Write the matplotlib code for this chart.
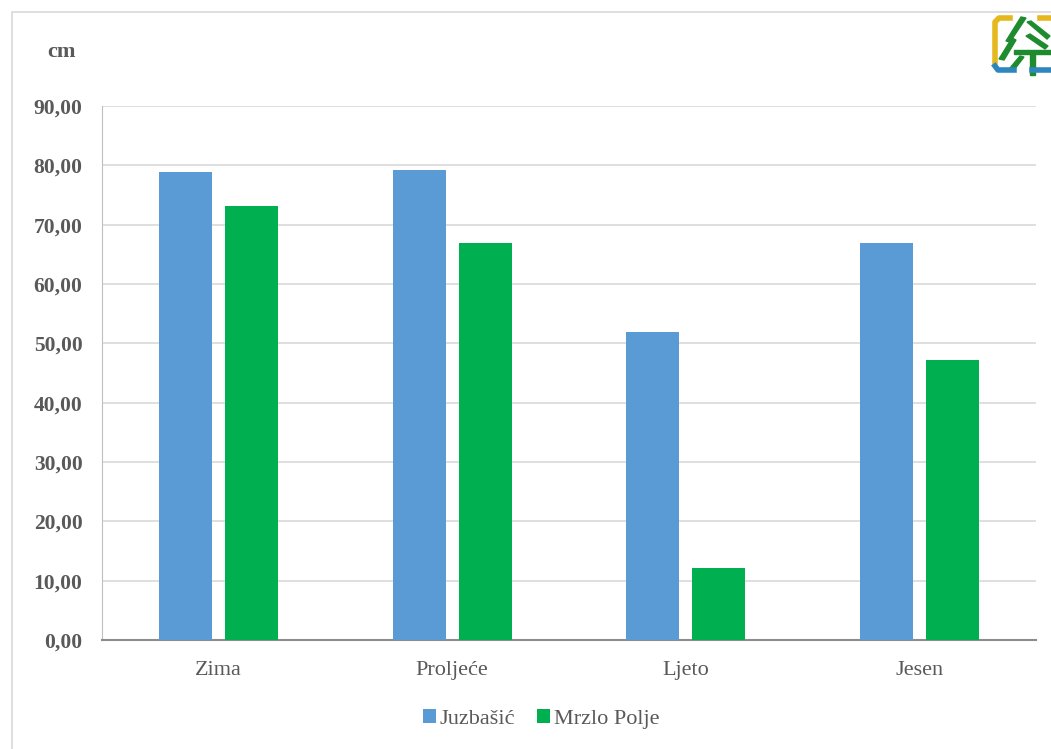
import numpy as np
import matplotlib.pyplot as plt
from matplotlib.patches import Rectangle, Polygon

plt.rcParams['font.family'] = ['Liberation Serif', 'DejaVu Serif']

seasons = ["Zima", "Proljeće", "Ljeto", "Jesen"]
juzbasic = [78.9, 79.2, 51.9, 66.9]
mrzlo_polje = [73.1, 66.9, 12.1, 47.2]
yticks = np.arange(0, 91, 10)

blue = "#5b9bd5"
green = "#00b050"
txt = "#595959"

fig = plt.figure(figsize=(10.51, 7.49), dpi=100)

# light frame round the chart
fig.patches.append(Rectangle((12 / 1051, -0.01), 1.05, 1 - 12 / 749 + 0.01,
                             transform=fig.transFigure, fill=False,
                             edgecolor="#d9d9d9", linewidth=1.2))

ax = fig.add_axes([102 / 1051, 1 - 640 / 749, 934 / 1051, 534 / 749])
x = np.arange(len(seasons))
w = 0.226
off = 0.141
ax.bar(x - off, juzbasic, w, color=blue, label="Juzbašić", zorder=3)
ax.bar(x + off, mrzlo_polje, w, color=green, label="Mrzlo Polje", zorder=3)

ax.set_xlim(-0.5, len(seasons) - 0.5)
ax.set_ylim(0, 90)
ax.set_yticks(yticks)
ax.set_yticklabels([f"{v:.2f}".replace(".", ",") for v in yticks],
                   fontsize=15.5, fontweight="bold", color=txt)
ax.set_xticks(x)
ax.set_xticklabels(seasons, fontsize=16, color=txt)
ax.tick_params(axis="both", length=0)
ax.tick_params(axis="y", pad=14)
ax.tick_params(axis="x", pad=15)
ax.grid(axis="y", color="#d9d9d9", linewidth=1.2, zorder=0)
for s in ["top", "right"]:
    ax.spines[s].set_visible(False)
ax.spines["left"].set_color("#bfbfbf")
ax.spines["bottom"].set_color("#8c8c8c")
ax.spines["bottom"].set_linewidth(1.5)

fig.text(62 / 1051, 1 - 52 / 749, "cm", fontsize=16, fontweight="bold",
         color=txt, ha="center", va="center")

leg = fig.legend(loc="center", bbox_to_anchor=(541 / 1051, 1 - 719 / 749),
                 ncol=2, frameon=False, fontsize=16, handlelength=0.6,
                 handleheight=0.6, handletextpad=0.15, columnspacing=1.0)
for t in leg.get_texts():
    t.set_color(txt)

# small emblem in the top right corner, drawn in pixel units
lax = fig.add_axes([990 / 1051, 1 - 80 / 749, 61 / 1051, 70 / 749])
lax.set_xlim(990, 1051)
lax.set_ylim(80, 10)
lax.axis("off")
lg = "#1e8c2e"
lax.plot([995, 995, 999, 1010], [62, 22, 18, 18], color="#e6b820",
         linewidth=4, solid_joinstyle="round")
lax.plot([1040, 1051], [18, 18], color="#e6b820", linewidth=4)
lax.plot([995, 998, 1014], [66, 70, 70], color="#2e86c1", linewidth=4,
         solid_joinstyle="round")
lax.plot([1032, 1051], [70, 70], color="#2e86c1", linewidth=4)
lax.add_patch(Polygon([[1021, 17], [1026, 18], [1010, 42], [1006, 41]], color=lg))
lax.add_patch(Polygon([[1012, 38], [1016, 40], [1004, 60], [999, 59]], color=lg))
lax.add_patch(Polygon([[1027, 22], [1031, 21], [1050, 36], [1047, 39]], color=lg))
lax.add_patch(Polygon([[1026, 36], [1030, 34], [1048, 46], [1045, 49]], color=lg))
lax.add_patch(Polygon([[1014, 50], [1051, 50], [1051, 54], [1014, 54]], color=lg))
lax.add_patch(Polygon([[1030, 54], [1035, 54], [1035, 75], [1030, 75]], color=lg))
lax.add_patch(Polygon([[1020, 56], [1024, 57], [1014, 70], [1010, 68]], color=lg))

fig.savefig("out.png", dpi=100)
